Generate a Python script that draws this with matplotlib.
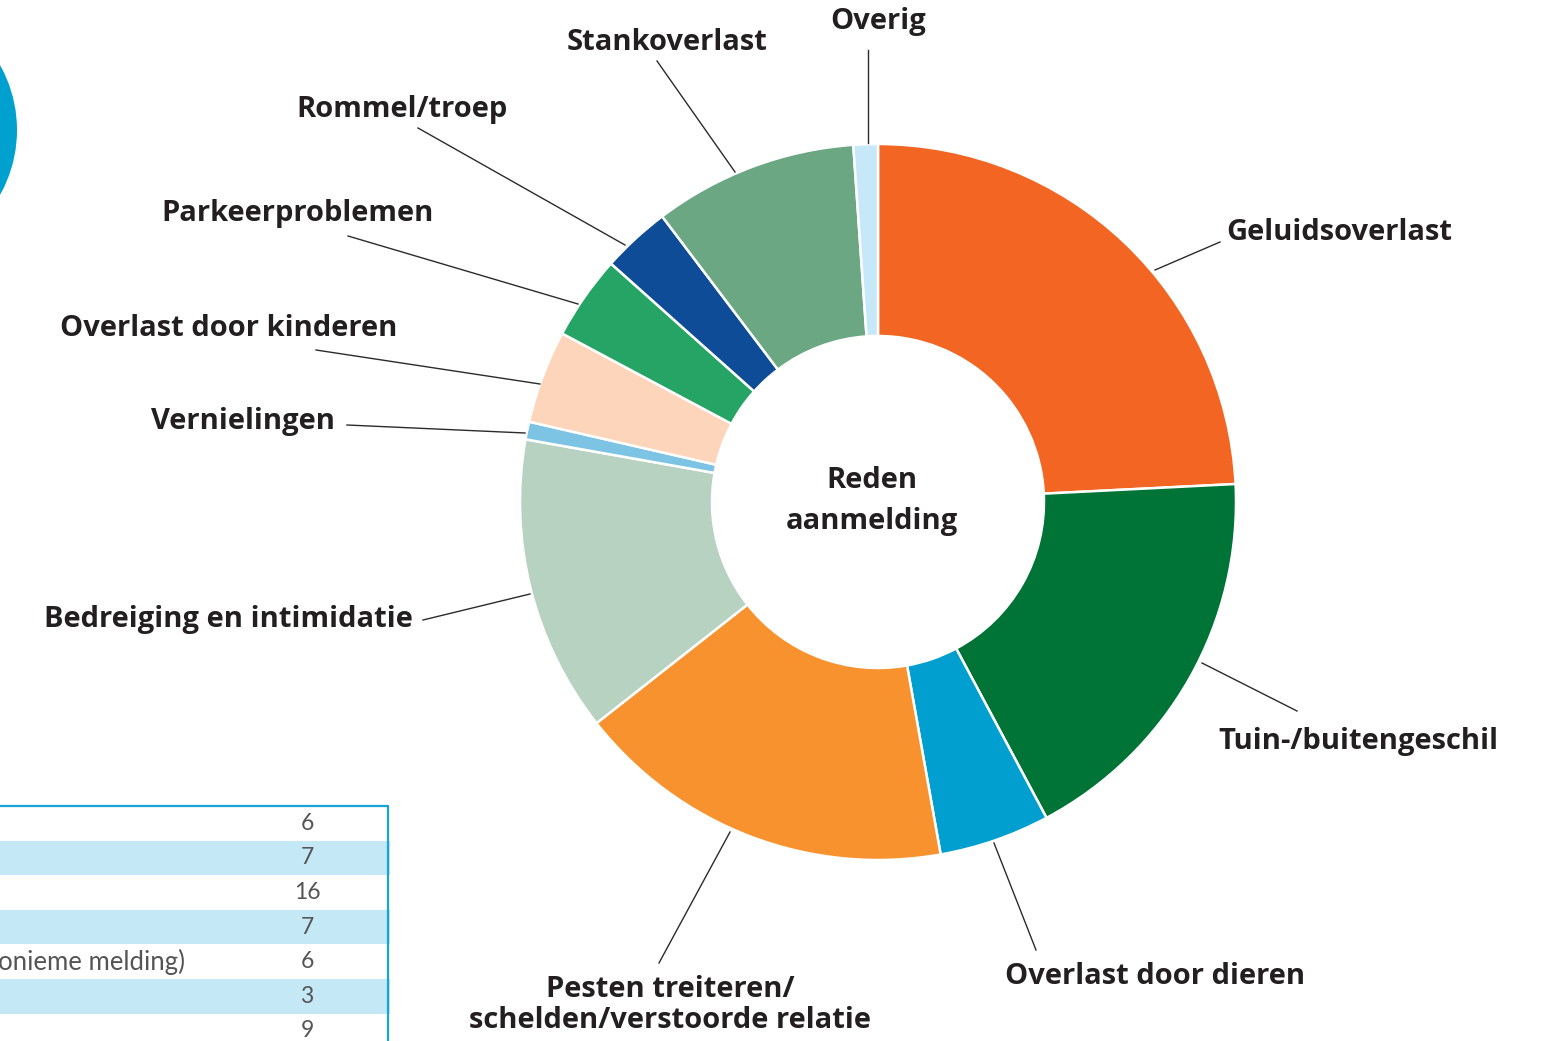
import matplotlib.pyplot as plt
from matplotlib.patches import Circle, Rectangle

plt.rcParams['font.family'] = ['Open Sans', 'DejaVu Sans']

# Reden aanmelding (aandeel in %), met de klok mee vanaf boven
labels = ['Geluidsoverlast', 'Tuin-/buitengeschil', 'Overlast door dieren',
          'Pesten treiteren/\nschelden/verstoorde relatie', 'Bedreiging en intimidatie',
          'Vernielingen', 'Overlast door kinderen', 'Parkeerproblemen',
          'Rommel/troep', 'Stankoverlast', 'Overig']
values = [24.2, 18.0, 5.0, 17.2, 13.4, 0.8, 4.2, 3.8, 3.1, 9.2, 1.1]
colors = ['#F26522', '#007337', '#009FCF', '#F7922F', '#B7D2C1',
          '#7DC3E3', '#FDD5BA', '#26A466', '#0F4C97', '#6AA782', '#C7E8F8']

# label placement: text position, alignment, leader line (start, end)
label_pos = [
    (1226, 233, 'left', (1220, 242), (1155, 270)),
    (1218, 741, 'left', (1297, 711), (1202, 663)),
    (1155, 976, 'center', (1036, 950), (994, 843)),
    (670, 1005, 'center', (659, 963), (730, 832)),
    (413, 619, 'right', (423, 620), (530, 594)),
    (335, 421, 'right', (347, 425), (525, 433)),
    (229, 329, 'center', (316, 350), (540, 384)),
    (298, 213, 'center', (348, 236), (578, 304)),
    (402, 109, 'center', (418, 128), (625, 245)),
    (667, 42, 'center', (657, 61), (735, 172)),
    (878, 22, 'center', (868, 50), (868, 143)),
]

# partial table at bottom left (only the number column and one text end are visible)
table_values = ['6', '7', '16', '7', '6', '3', '9']
table_texts = ['', '', '', '', 'onieme melding)', '', '']

fig = plt.figure(figsize=(15.54, 10.41), dpi=100)
ax = fig.add_axes([0, 0, 1, 1])

ax.pie(values, colors=colors, center=(878, 502), radius=358,
       startangle=-90, counterclock=True,
       wedgeprops=dict(width=192, edgecolor='white', linewidth=1.8))

ax.set_xlim(0, 1554)
ax.set_ylim(1041, 0)
ax.set_aspect('equal')
ax.axis('off')

for lab, (tx, ty, ha, p0, p1) in zip(labels, label_pos):
    ax.plot([p0[0], p1[0]], [p0[1], p1[1]], color='#2b2b2b', lw=1.0)
    ax.text(tx, ty, lab, ha=ha, va='center', fontsize=21, fontweight='bold',
            color='#231F20', linespacing=1.1)

ax.text(872, 501, 'Reden\naanmelding', ha='center', va='center', fontsize=21,
        fontweight='bold', color='#231F20', linespacing=1.55)

# blue circle top left (cut off)
ax.add_patch(Circle((-116, 130), 133, color='#00A0CF', lw=0))

# table fragment
row_h = 34.6
top = 806
for i, (val, txt) in enumerate(zip(table_values, table_texts)):
    y0 = top + i * row_h
    if i % 2 == 1:
        ax.add_patch(Rectangle((0, y0), 390, row_h, color='#C5E8F7', lw=0))
    ax.text(307, y0 + row_h / 2, val, ha='center', va='center', fontsize=16.5,
            color='#555555', family='Lato')
    if txt:
        ax.text(185, y0 + row_h / 2, txt, ha='right', va='center', fontsize=18.5,
                color='#555555', family='Lato')
ax.plot([0, 388, 388], [top, top, 1041], color='#1AA3D6', lw=1.6)

fig.savefig('out.png', dpi=100)
